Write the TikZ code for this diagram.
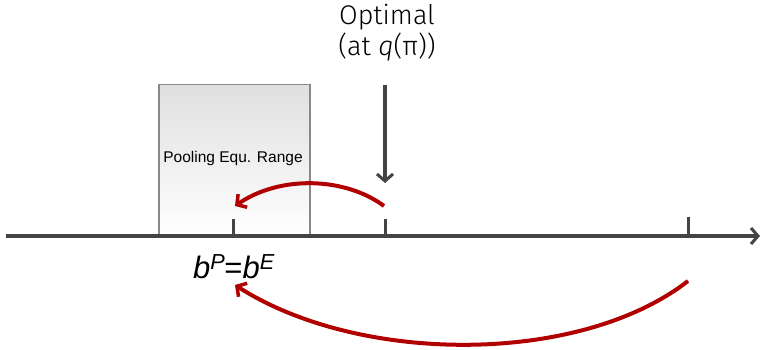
\documentclass[tikz,border=0pt]{standalone}
\usepackage{fontspec}
\setmainfont{Liberation Sans}
\newfontfamily\handfont{Fira Sans Light}
\usetikzlibrary{arrows.meta}
\definecolor{axisgray}{HTML}{444444}
\definecolor{boxborder}{HTML}{888888}
\definecolor{darkred}{HTML}{B00000}
\tikzset{
  axisline/.style={draw=axisgray, line width=4pt},
  ticks/.style={draw=axisgray, line width=3pt},
  barb/.style={-{Straight Barb[length=7pt,width=16pt,line width=3pt]}},
  redarrow/.style={draw=darkred, line width=4pt, -{Straight Barb[length=7pt,width=16pt,line width=3.5pt]}},
}
\begin{document}
\begin{tikzpicture}[x=1pt,y=1pt]
\useasboundingbox (0,0) rectangle (762,349);
% box
\node[draw=boxborder, line width=1.5pt, top color=gray!25, bottom color=white, minimum width=151pt, minimum height=151pt, inner sep=0pt, anchor=south west] (box) at (158,113) {};
\node[font=\fontsize{15.5}{18}\selectfont] (lbl) at (233,191) {Pooling Equ. Range};
% axis
\coordinate (a0) at (6,113);
\coordinate (a1) at (760,113);
\draw[axisline, barb] (a0) -- (a1);
% ticks
\coordinate (t1) at (233,113);
\coordinate (t1u) at (233,130);
\coordinate (t2) at (385,113);
\coordinate (t2u) at (385,130);
\coordinate (t3) at (688,113);
\coordinate (t3u) at (688,132);
\draw[ticks] (t1) -- (t1u);
\draw[ticks] (t2) -- (t2u);
\draw[ticks] (t3) -- (t3u);
% optimal label and arrow
\node[font=\handfont\fontsize{27}{31}\selectfont, align=center] (opt) at (387,316) {Optimal\\(at \textit{q}(π))};
\coordinate (d0) at (385,264);
\coordinate (d1) at (385,166);
\draw[draw=axisgray, line width=3.5pt, barb] (d0) -- (d1);
% b label
\node[font=\itshape\fontsize{31}{34}\selectfont] (b) at (234,82) {b\textsuperscript{P}\kern-1pt\upshape=\itshape b\textsuperscript{E}};
% red arrows
\coordinate (r1s) at (384,143);
\coordinate (r1e) at (235,143);
\draw[redarrow] (r1s) .. controls (345,172) and (280,174) .. (r1e);
\coordinate (r2s) at (688,68);
\coordinate (r2e) at (235,64);
\draw[redarrow] (r2s) .. controls (580,-16) and (360,-16) .. (r2e);
\end{tikzpicture}
\end{document}
